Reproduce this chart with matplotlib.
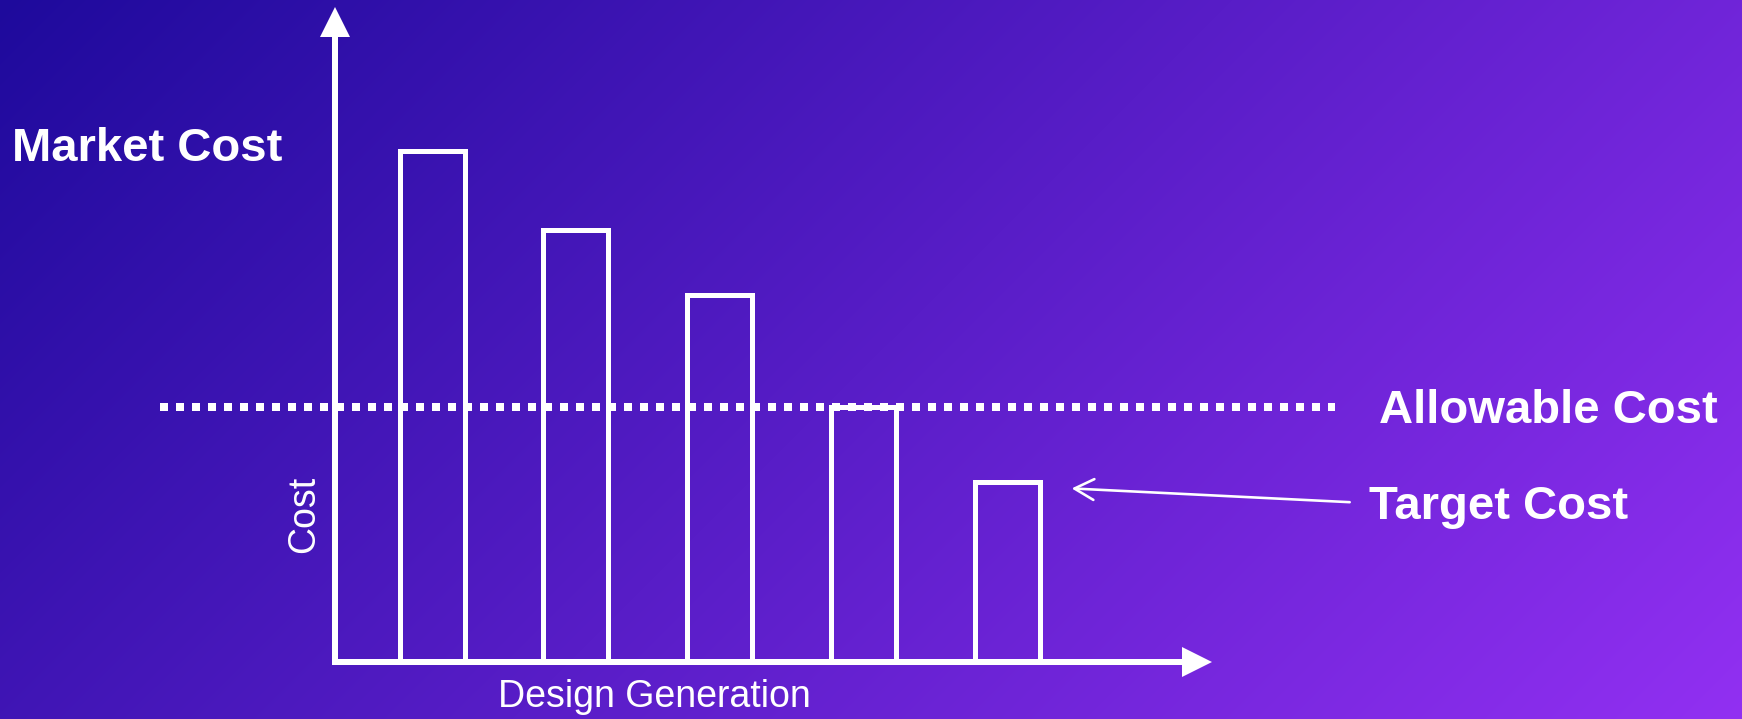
import matplotlib
matplotlib.use("Agg")
import matplotlib.pyplot as plt
import matplotlib.transforms as mtransforms
import numpy as np

plt.rcParams["font.family"] = ["Liberation Sans", "DejaVu Sans"]

# cost of each design generation, axis runs 0..100
GENERATIONS = [1, 2, 3, 4, 5]
COSTS = [78, 66, 56, 39, 27.5]
ALLOWABLE_COST = 39

MARKET_LABEL = "Market Cost"
ALLOWABLE_LABEL = "Allowable Cost"
TARGET_LABEL = "Target Cost"
X_LABEL = "Design Generation"
Y_LABEL = "Cost"

W, H = 1742, 719
DPI = 100
PT = 72 / DPI  # points per pixel
HEAD = 30      # axis arrow head size, px

TOP_LEFT = np.array([0x1e, 0x0a, 0x9c]) / 255
BOTTOM_RIGHT = np.array([0x92, 0x30, 0xf2]) / 255


def fig_xy(x, y):
    """pixel position (from top-left) -> figure fraction"""
    return x / W, 1 - y / H


fig = plt.figure(figsize=(W / DPI, H / DPI), dpi=DPI)

# diagonal background gradient
bg = fig.add_axes([0, 0, 1, 1])
yy, xx = np.mgrid[0:H, 0:W]
t = ((xx + yy) / (W + H))[..., None]
bg.imshow(TOP_LEFT + t * (BOTTOM_RIGHT - TOP_LEFT), aspect="auto",
          extent=(0, 1, 0, 1), interpolation="bilinear")
bg.set_axis_off()

# chart area: origin at the axis corner, top/right at the arrow tips
left, bottom = fig_xy(335, 662)
right, top = fig_xy(1212, 7)
ax = fig.add_axes([left, bottom, right - left, top - bottom])
ax.patch.set_alpha(0)
ax.set_xlim(0.325, 6.426)
ax.set_ylim(0, 100)
ax.set_axis_off()

ax.bar(GENERATIONS, COSTS, width=0.452, fill=False, edgecolor="white",
       linewidth=5 * PT, zorder=3)

ax.hlines(ALLOWABLE_COST, -0.2, 1.1402, transform=ax.get_yaxis_transform(),
          colors="white", linewidth=8 * PT, linestyles=(0, (1, 1)),
          clip_on=False, zorder=2)

# axis lines stop at the arrow heads
ax_w = (right - left) * W
ax_h = (top - bottom) * H
ax.plot([0, 1 - HEAD / ax_w], [0, 0], transform=ax.transAxes, color="white",
        lw=6 * PT, solid_capstyle="projecting", clip_on=False, zorder=4)
ax.plot([0, 0], [0, 1 - HEAD / ax_h], transform=ax.transAxes, color="white",
        lw=6 * PT, solid_capstyle="projecting", clip_on=False, zorder=4)
ax.plot([1], [0], marker=">", ms=HEAD * PT, mew=0, color="white", clip_on=False,
        transform=mtransforms.offset_copy(ax.transAxes, fig=fig, x=-HEAD / 2, units="dots"),
        zorder=4)
ax.plot([0], [1], marker="^", ms=HEAD * PT, mew=0, color="white", clip_on=False,
        transform=mtransforms.offset_copy(ax.transAxes, fig=fig, y=-HEAD / 2, units="dots"),
        zorder=4)

# pointer from the target label to the last generation
ax.annotate("", xy=(GENERATIONS[-1] + 0.45, COSTS[-1] - 1),
            xytext=(1.157, 0.244), textcoords="axes fraction",
            arrowprops=dict(arrowstyle="->,head_length=14,head_width=7.5",
                            mutation_scale=1, color="white", lw=2.6 * PT,
                            shrinkA=0, shrinkB=0),
            annotation_clip=False, zorder=4)

bold = dict(color="white", fontsize=34, fontweight="bold", ha="left", va="baseline")
fig.text(*fig_xy(12, 161), MARKET_LABEL, **bold)
fig.text(*fig_xy(1379, 423), ALLOWABLE_LABEL, **bold)
fig.text(*fig_xy(1369, 519), TARGET_LABEL, **bold)

fig.text(*fig_xy(654, 707), X_LABEL, color="white", fontsize=27,
         ha="center", va="baseline")
fig.text(*fig_xy(314, 514), Y_LABEL, color="white", fontsize=27,
         rotation=90, ha="center", va="baseline", rotation_mode="anchor")

fig.savefig("out.png", dpi=DPI)
